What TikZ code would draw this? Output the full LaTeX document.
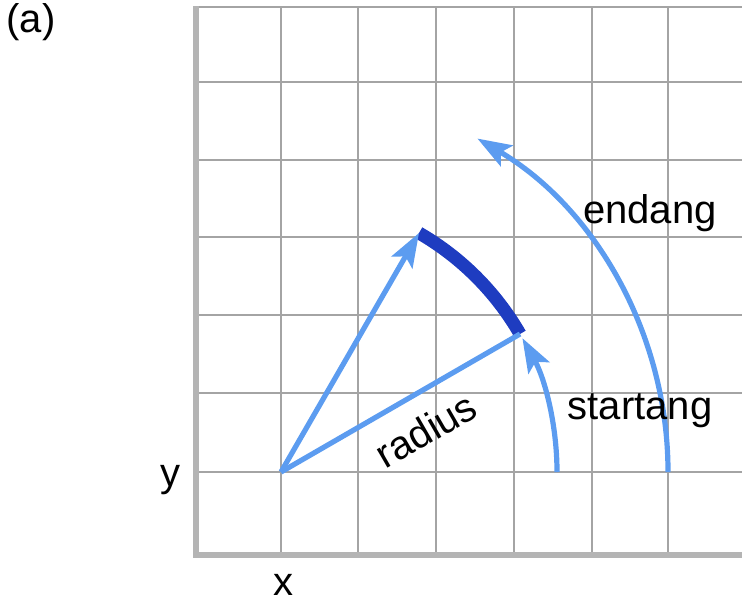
\documentclass[tikz,border=0pt]{standalone}
\usepackage{fontspec}
\setmainfont{Liberation Sans}
\usepackage{tikz}
\usetikzlibrary{arrows.meta,calc}
\definecolor{lightblue}{HTML}{5C9CF0}
\definecolor{darkblue}{HTML}{1E3CC0}
\definecolor{gridgray}{HTML}{A4A4A4}
\definecolor{bordergray}{HTML}{B4B4B4}

\begin{document}
\begin{tikzpicture}[
  x=0.5pt,y=0.5pt,
  font=\fontsize{20}{24}\selectfont,
  gridline/.style={draw=gridgray,line width=1pt},
  border/.style={draw=bordergray,line width=3pt},
  ray/.style={draw=lightblue,line width=2.6pt},
  arr/.style={ray,-{Stealth[length=17pt,width=12pt,inset=3.5pt]}},
  arcpart/.style={draw=darkblue,line width=6.5pt},
  lbl/.style={inner sep=0pt}
]
\useasboundingbox (0,0) rectangle (742,606);
% grid
\foreach \gx in {281,358,436,514,592,668}
  \draw[gridline] (\gx,51) -- (\gx,599);
\foreach \gy in {134,213,291,369,446,524}
  \draw[gridline] (196,\gy) -- (742,\gy);
\draw[gridline] (196,599) -- (742,599);
\draw[border] (742,51) -- (196,51) -- (196,600);
% centre and arc end points
\coordinate (centre) at (281,134);
\coordinate (startpt) at ($(centre)+(30:276)$);
\coordinate (endpt) at ($(centre)+(60:276)$);
\draw[arcpart] (startpt) arc[start angle=30,end angle=60,radius=276];
\draw[ray] (centre) -- (startpt);
\draw[arr] (centre) -- (endpt);
\draw[arr] ($(centre)+(0:276)$) arc[start angle=0,end angle=29,radius=276];
\draw[arr] ($(centre)+(0:387)$) arc[start angle=0,end angle=59.5,radius=387];
% labels
\node[lbl] (tag) at (31,584) {(a)};
\node[lbl] (ylab) at (170,126) {y};
\node[lbl] (xlab) at (283,21) {x};
\node[lbl,rotate=30] (radlab) at (426,176) {radius};
\node[lbl] (startlab) at (640,195) {startang};
\node[lbl] (endlab) at (650,393) {endang};
\end{tikzpicture}
\end{document}
